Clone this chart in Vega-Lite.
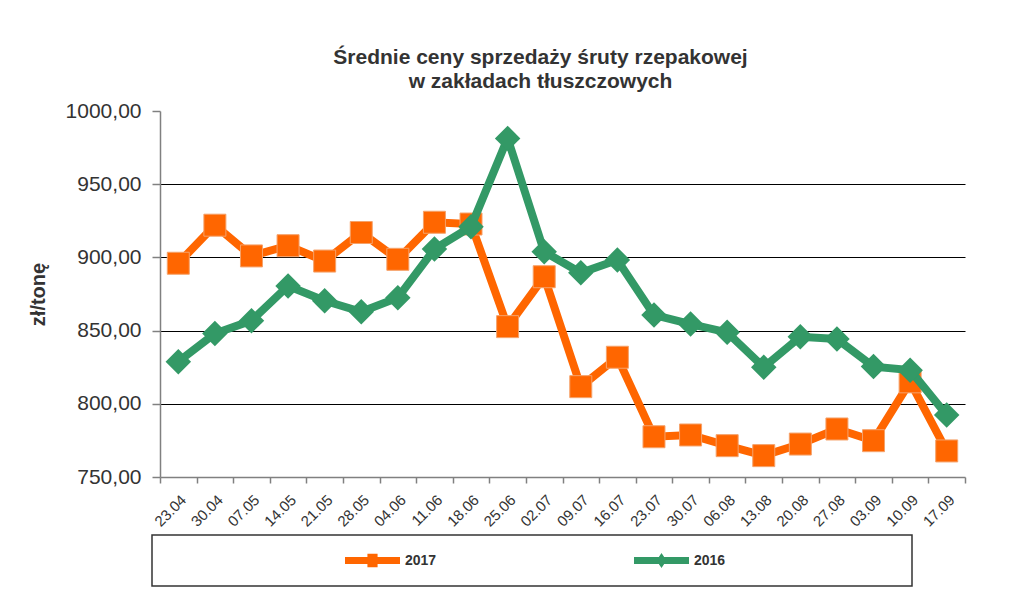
{
  "$schema": "https://vega.github.io/schema/vega-lite/v6.json",
  "width": 805,
  "height": 366,
  "autosize": {"type": "none"},
  "padding": {"left": 160, "top": 111, "right": 56, "bottom": 113},
  "background": "white",
  "config": {"font": "Liberation Sans", "view": {"stroke": null}},
  "title": {
    "text": ["Średnie ceny sprzedaży śruty rzepakowej", "w zakładach tłuszczowych"],
    "fontSize": 21, "fontWeight": "bold", "color": "#333333",
    "anchor": "middle", "dx": -22, "offset": 8, "lineHeight": 24
  },
  "data": {"values": [
    {"d": "23.04", "s": "2017", "v": 896}, {"d": "30.04", "s": "2017", "v": 922}, {"d": "07.05", "s": "2017", "v": 901},
    {"d": "14.05", "s": "2017", "v": 908}, {"d": "21.05", "s": "2017", "v": 897.5}, {"d": "28.05", "s": "2017", "v": 917},
    {"d": "04.06", "s": "2017", "v": 898.7}, {"d": "11.06", "s": "2017", "v": 924}, {"d": "18.06", "s": "2017", "v": 922.8},
    {"d": "25.06", "s": "2017", "v": 852.7}, {"d": "02.07", "s": "2017", "v": 886.8}, {"d": "09.07", "s": "2017", "v": 811.7},
    {"d": "16.07", "s": "2017", "v": 831.8}, {"d": "23.07", "s": "2017", "v": 777.5}, {"d": "30.07", "s": "2017", "v": 778.7},
    {"d": "06.08", "s": "2017", "v": 771.4}, {"d": "13.08", "s": "2017", "v": 764.6}, {"d": "20.08", "s": "2017", "v": 772.5},
    {"d": "27.08", "s": "2017", "v": 782.8}, {"d": "03.09", "s": "2017", "v": 774.8}, {"d": "10.09", "s": "2017", "v": 815},
    {"d": "17.09", "s": "2017", "v": 767.8},
    {"d": "23.04", "s": "2016", "v": 828.8}, {"d": "30.04", "s": "2016", "v": 848}, {"d": "07.05", "s": "2016", "v": 856.8},
    {"d": "14.05", "s": "2016", "v": 880.5}, {"d": "21.05", "s": "2016", "v": 870.4}, {"d": "28.05", "s": "2016", "v": 862.9},
    {"d": "04.06", "s": "2016", "v": 872.5}, {"d": "11.06", "s": "2016", "v": 905.7}, {"d": "18.06", "s": "2016", "v": 921},
    {"d": "25.06", "s": "2016", "v": 981.3}, {"d": "02.07", "s": "2016", "v": 903.9}, {"d": "09.07", "s": "2016", "v": 889.5},
    {"d": "16.07", "s": "2016", "v": 898.2}, {"d": "23.07", "s": "2016", "v": 860.7}, {"d": "30.07", "s": "2016", "v": 854.5},
    {"d": "06.08", "s": "2016", "v": 848.8}, {"d": "13.08", "s": "2016", "v": 825}, {"d": "20.08", "s": "2016", "v": 845.8},
    {"d": "27.08", "s": "2016", "v": 844.3}, {"d": "03.09", "s": "2016", "v": 825.4}, {"d": "10.09", "s": "2016", "v": 823},
    {"d": "17.09", "s": "2016", "v": 792.3}
  ]},
  "encoding": {
    "x": {
      "field": "d", "type": "ordinal", "sort": null,
      "scale": {"type": "band", "paddingInner": 0, "paddingOuter": 0},
      "axis": {
        "title": null, "grid": false, "tickBand": "extent",
        "domainColor": "#808080", "domainWidth": 1.5, "tickColor": "#808080", "tickWidth": 1.5, "tickSize": 6,
        "labelAngle": -45, "labelFontSize": 15, "labelColor": "#333333", "labelPadding": 9, "labelDx": -3
      }
    },
    "y": {
      "field": "v", "type": "quantitative",
      "scale": {"domain": [750, 1000], "nice": false, "zero": false},
      "axis": {
        "title": "zł/tonę", "titleFontSize": 20, "titleFontWeight": "bold", "titleColor": "#333333", "titlePadding": 17,
        "values": [750, 800, 850, 900, 950, 1000],
        "labelExpr": "replace(format(datum.value, '.2f'), '.', ',')",
        "labelFontSize": 21, "labelColor": "#333333", "labelPadding": 11,
        "domainColor": "#808080", "domainWidth": 1.5, "tickColor": "#808080", "tickWidth": 1.5, "tickSize": 8,
        "grid": true, "gridColor": "#000000", "gridWidth": 1,
        "gridOpacity": {"condition": {"test": "datum.value == 1000 || datum.value == 750", "value": 0}, "value": 1}
      }
    }
  },
  "layer": [
    {
      "transform": [{"filter": "datum.s == '2017'"}],
      "mark": {"type": "line", "strokeWidth": 8},
      "encoding": {
        "color": {
          "field": "s", "type": "nominal",
          "scale": {"domain": ["2017", "2016"], "range": ["#FF6600", "#339966"]},
          "legend": {
            "orient": "none", "legendX": -8, "legendY": 424, "direction": "horizontal", "columns": 2,
            "title": " ", "titleOrient": "right", "titlePadding": 179, "titleFontSize": 14,
            "strokeColor": "#333333", "padding": 8, "clipHeight": 35,
            "symbolSize": 1225, "symbolOffset": 195, "columnPadding": 12,
            "labelFontSize": 14, "labelFontWeight": "bold", "labelColor": "#333333", "labelOffset": 15,
            "encode": {
              "legend": {"update": {"strokeWidth": {"value": 1.5}}},
              "symbols": {"update": {
                "shape": {"signal": "datum.value === '2017' ? 'M-1.57,-0.2H1.57V0.2H-1.57Z M-0.29,-0.39H0.29V0.39H-0.29Z' : 'M-1.57,-0.2H1.57V0.2H-1.57Z M0,-0.43L0.29,0L0,0.43L-0.29,0Z'"},
                "fill": {"signal": "datum.value === '2017' ? '#FF6600' : '#339966'"},
                "stroke": {"value": "transparent"},
                "strokeWidth": {"value": 0},
                "opacity": {"value": 1}
              }}
            }
          }
        }
      }
    },
    {
      "transform": [{"filter": "datum.s == '2017'"}],
      "mark": {"type": "point", "shape": "square", "filled": true, "size": 484, "color": "#FF6600", "stroke": "#F5A26A", "strokeWidth": 1, "opacity": 1}
    },
    {
      "transform": [{"filter": "datum.s == '2016'"}],
      "mark": {"type": "line", "strokeWidth": 8},
      "encoding": {
        "color": {"field": "s", "type": "nominal"}
      }
    },
    {
      "transform": [{"filter": "datum.s == '2016'"}],
      "mark": {"type": "point", "shape": "diamond", "filled": true, "size": 650, "color": "#339966", "opacity": 1}
    }
  ]
}
